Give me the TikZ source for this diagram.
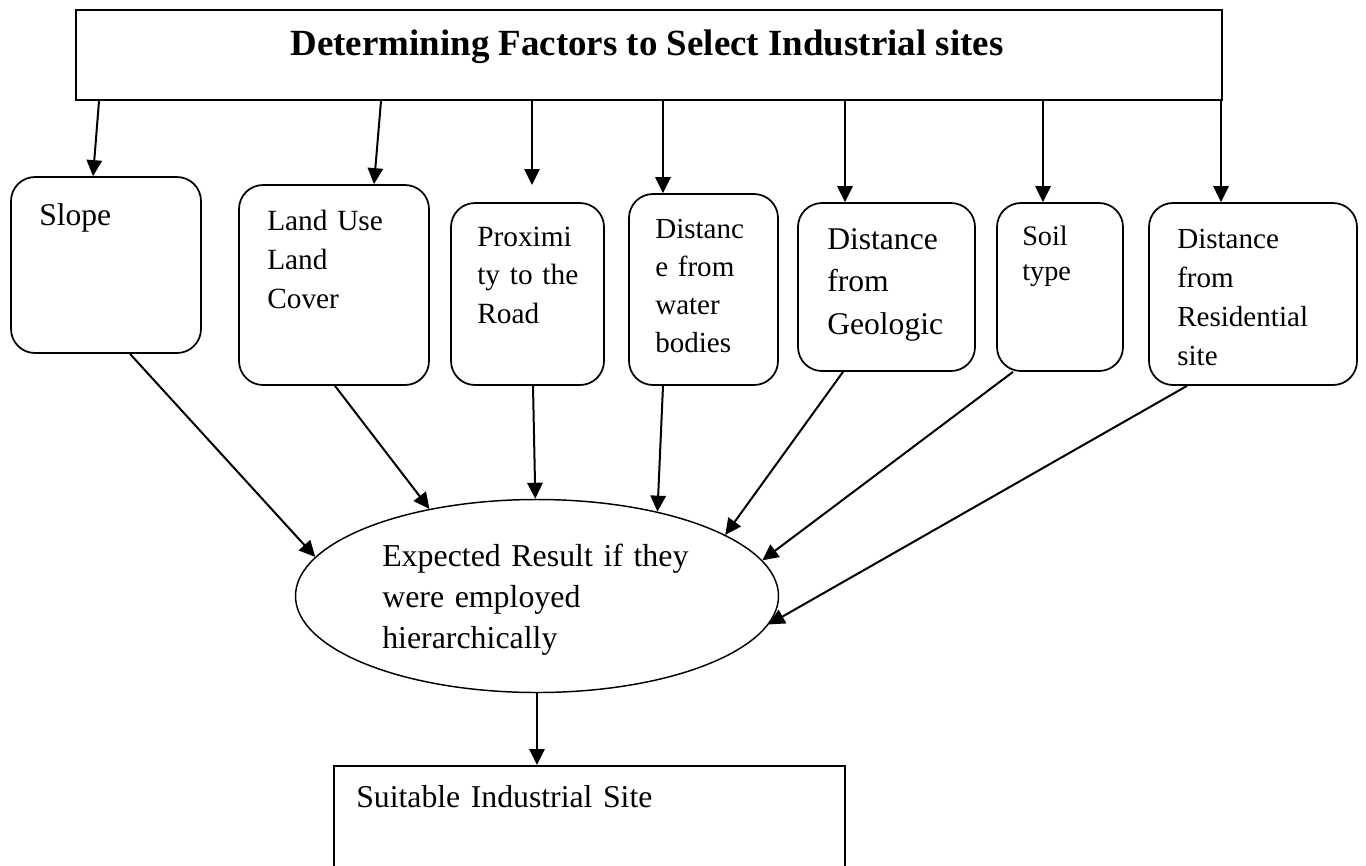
\documentclass[tikz,border=0pt]{standalone}
\usepackage{fontspec}
\setmainfont{Liberation Serif}
\usetikzlibrary{arrows.meta}
\usetikzlibrary{fit}
\usetikzlibrary{shapes.geometric}

\newcommand{\setfs}[2]{\fontsize{#1}{#2}\selectfont}

\tikzset{
  factor/.style={draw, rounded corners=18pt, line width=1.3pt, inner sep=0pt},
  plainbox/.style={draw, line width=1.5pt, inner sep=0pt},
  arr/.style={line width=1.5pt, -{Triangle[length=12pt,width=11.5pt]}},
  lbl/.style={anchor=base west, inner sep=0pt, text width=300pt, align=left},
}

\begin{document}
\begin{tikzpicture}[x=0.75pt, y=-0.75pt]
  \clip (0,0) rectangle (1366,865);

  % title
  \node[plainbox, fit={(76,10) (1222,100)}] (top) {};
  \node[anchor=base, inner sep=0pt, font=\bfseries\setfs{27.7}{33}] (top-t) at (647,55)
    {Determining Factors to Select Industrial sites};

  % factor boxes
  \foreach \name/\xa/\ya/\xb/\yb in {
    slope/11/177/201/353,
    landuse/239/185/429/385,
    prox/451/203/604/385,
    water/629/194/778/385,
    geologic/798/203/975/371,
    soil/997/203/1123/371,
    resid/1149/203/1357/385
  }{
    \node[factor, fit={(\xa,\ya) (\xb,\yb)}] (\name) {};
  }

  \node[lbl, font=\setfs{23.7}{30}] (slope-t) at (39,225) {Slope};
  \node[lbl, font=\setfs{22}{29.25}] (landuse-t) at (267,230) {Land Use\\Land\\Cover};
  \node[lbl, font=\setfs{22}{28.9}] (prox-t) at (477,246) {Proximi\\ty to the\\Road};
  \node[lbl, font=\setfs{21.8}{28.7}] (water-t) at (655,238) {Distanc\\e from\\water\\bodies};
  \node[lbl, font=\setfs{23.7}{31.9}] (geologic-t) at (827,249) {Distance\\from\\Geologic};
  \node[lbl, font=\setfs{21.2}{26.25}] (soil-t) at (1022,245) {Soil\\type};
  \node[lbl, font=\setfs{21.8}{29.25}] (resid-t) at (1177,248) {Distance\\from\\Residential\\site};

  % expected result
  \node[draw, ellipse, line width=1.1pt, inner sep=0pt,
        minimum width=362.25pt, minimum height=144.75pt] (ell) at (537,596) {};
  \node[lbl, font=\setfs{23.9}{30.75}] (ell-t) at (382,566)
    {Expected Result if they\\were employed\\hierarchically};

  % suitable site
  \node[plainbox, fit={(334,766) (845,880)}] (site) {};
  \node[lbl, font=\setfs{23.8}{30}] (site-t) at (356,807) {Suitable Industrial Site};

  % arrows from the title
  \foreach \name/\xa/\xb in {
    slope/99/93,
    landuse/381/374,
    water/663/663,
    geologic/845/845,
    soil/1043/1043,
    resid/1221/1221
  }{
    \draw[arr] (\xa,0 |- top.south) -- (\xb,0 |- \name.north);
  }
  \coordinate (prox-end) at (532,185);
  \draw[arr] (532,0 |- top.south) -- (prox-end);

  % arrows into the ellipse
  \foreach \name/\xs/\ang in {
    slope/130/170.2,
    landuse/335/141.7,
    prox/533/91.8,
    water/663/35.2,
    geologic/843/18.05,
    soil/1013/9.5,
    resid/1187/-7.9
  }{
    \draw[arr] (\xs,0 |- \name.south) -- (ell.\ang);
  }

  \draw[arr] (ell.south) -- (ell.south |- site.north);
\end{tikzpicture}
\end{document}
